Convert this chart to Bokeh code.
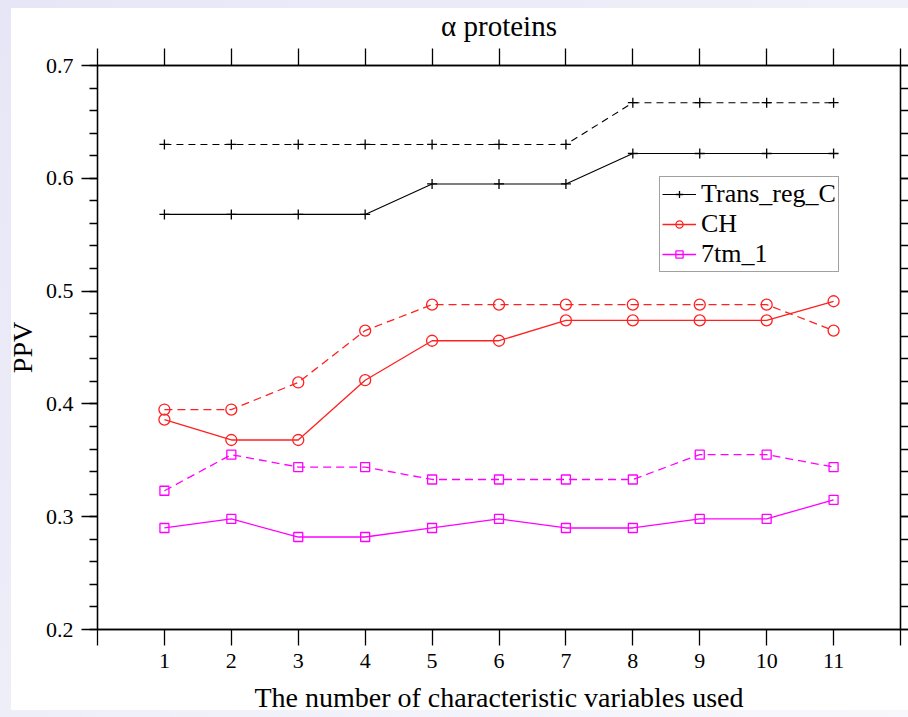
from bokeh.plotting import figure
from bokeh.models import FixedTicker, LinearAxis, Range1d, Legend, LegendItem
from bokeh.embed import file_html
from bokeh.resources import INLINE

# ---- data ----
x_vals = [1, 2, 3, 4, 5, 6, 7, 8, 9, 10, 11]
trans_solid = [0.568, 0.568, 0.568, 0.568, 0.595, 0.595, 0.595, 0.622, 0.622, 0.622, 0.622]
trans_dashed = [0.630, 0.630, 0.630, 0.630, 0.630, 0.630, 0.630, 0.667, 0.667, 0.667, 0.667]
ch_solid = [0.386, 0.368, 0.368, 0.421, 0.456, 0.456, 0.474, 0.474, 0.474, 0.474, 0.491]
ch_dashed = [0.395, 0.395, 0.419, 0.465, 0.488, 0.488, 0.488, 0.488, 0.488, 0.488, 0.465]
tm_solid = [0.290, 0.298, 0.282, 0.282, 0.290, 0.298, 0.290, 0.290, 0.298, 0.298, 0.315]
tm_dashed = [0.323, 0.355, 0.344, 0.344, 0.333, 0.333, 0.333, 0.333, 0.355, 0.355, 0.344]
x_ticks = list(range(0, 13))
y_ticks = [0.2, 0.3, 0.4, 0.5, 0.6, 0.7]
y_minor = [round(0.2 + 0.02 * i, 2) for i in range(26)]

FONT = "Liberation Serif"

p = figure(width=908, height=717, x_range=Range1d(0, 12), y_range=Range1d(0.2, 0.7),
           output_backend="svg", toolbar_location=None,
           min_border_left=97, min_border_right=8, min_border_top=65, min_border_bottom=88)

# page background: lavender with a white panel (11..908 x 8..710)
p.styles = {
    "background": "linear-gradient(#ffffff, #ffffff) 11px 8px / 897px 702px no-repeat, "
                  "linear-gradient(135deg, #e6e6f6 0%, #f1f1fa 60%, #f7f7fc 100%)"
}
p.background_fill_color = "white"
p.border_fill_color = None
p.outline_line_color = "black"
p.outline_line_width = 1.3
p.xgrid.visible = False
p.ygrid.visible = False

p.title.text = "\u03b1 proteins"
p.title.align = "center"
p.title.text_font = FONT
p.title.text_font_size = "29px"
p.title.text_font_style = "normal"
p.title.text_color = "black"
p.title.standoff = 14


def style_axis(ax, labels=True):
    ax.axis_line_color = "black"
    ax.axis_line_width = 1.3
    ax.major_tick_line_color = "black"
    ax.major_tick_line_width = 1.3
    ax.minor_tick_line_color = "black"
    ax.minor_tick_line_width = 1.3
    ax.major_tick_in = 0
    ax.major_tick_out = 16
    ax.minor_tick_in = 0
    ax.minor_tick_out = 8
    ax.major_label_text_font = FONT
    ax.major_label_text_font_size = "22px"
    ax.major_label_text_color = "black"
    ax.major_label_standoff = 6 if labels else 0
    ax.axis_label_text_font = FONT
    ax.axis_label_text_font_size = "28px"
    ax.axis_label_text_font_style = "normal"
    ax.axis_label_text_color = "black"


# bottom axis
xa = p.xaxis[0]
xa.ticker = FixedTicker(ticks=x_ticks)
xa.major_label_overrides = {0: "", 12: ""}
xa.axis_label = "The number of characteristic variables used"
style_axis(xa)
xa.major_label_standoff = 8
xa.axis_label_standoff = 11

# left axis
ya = p.yaxis[0]
ya.ticker = FixedTicker(ticks=y_ticks, minor_ticks=y_minor)
ya.axis_label = "PPV"
style_axis(ya)
ya.major_label_standoff = 8
ya.axis_label_standoff = 5

# top axis (ticks only)
top = LinearAxis(ticker=FixedTicker(ticks=x_ticks))
style_axis(top, labels=False)
top.major_label_overrides = {t: "" for t in x_ticks}
top.major_tick_out = 17
p.add_layout(top, "above")

# right axis (ticks only)
right = LinearAxis(ticker=FixedTicker(ticks=y_ticks, minor_ticks=y_minor))
style_axis(right, labels=False)
right.major_label_overrides = {t: "" for t in y_ticks}
right.major_tick_out = 8
p.add_layout(right, "right")

RED = "#ff2020"
MAG = "#ff00ff"

# Trans_reg_C
l1 = p.line(x_vals, trans_solid, line_color="black", line_width=1.1)
m1 = p.scatter(x_vals, trans_solid, marker="cross", size=10, line_color="black", line_width=1.3)
p.line(x_vals, trans_dashed, line_color="black", line_width=1.1, line_dash="7 5")
p.scatter(x_vals, trans_dashed, marker="cross", size=10, line_color="black", line_width=1.3)

# CH
l2 = p.line(x_vals, ch_solid, line_color=RED, line_width=1.3)
m2 = p.scatter(x_vals, ch_solid, marker="circle", size=11, line_color=RED, fill_color=None, line_width=1.3)
p.line(x_vals, ch_dashed, line_color=RED, line_width=1.3, line_dash="8 5")
p.scatter(x_vals, ch_dashed, marker="circle", size=11, line_color=RED, fill_color=None, line_width=1.3)

# 7tm_1
l3 = p.line(x_vals, tm_solid, line_color=MAG, line_width=1.3)
m3 = p.scatter(x_vals, tm_solid, marker="square", size=9, line_color=MAG, fill_color=None, line_width=1.3)
p.line(x_vals, tm_dashed, line_color=MAG, line_width=1.3, line_dash="8 5")
p.scatter(x_vals, tm_dashed, marker="square", size=9, line_color=MAG, fill_color=None, line_width=1.3)

legend = Legend(items=[
    LegendItem(label="Trans_reg_C", renderers=[l1, m1]),
    LegendItem(label="CH", renderers=[l2, m2]),
    LegendItem(label="7tm_1", renderers=[l3, m3]),
], location=(562, 357))
legend.label_text_font = FONT
legend.label_text_font_size = "26px"
legend.label_text_color = "black"
legend.border_line_color = "#444444"
legend.border_line_width = 1.3
legend.background_fill_alpha = 1
legend.glyph_width = 34
legend.glyph_height = 18
legend.label_height = 18
legend.spacing = 0
legend.padding = 2
legend.margin = 0
legend.label_standoff = 5
p.add_layout(legend, "center")

open("out.html", "w").write(file_html(p, INLINE))
